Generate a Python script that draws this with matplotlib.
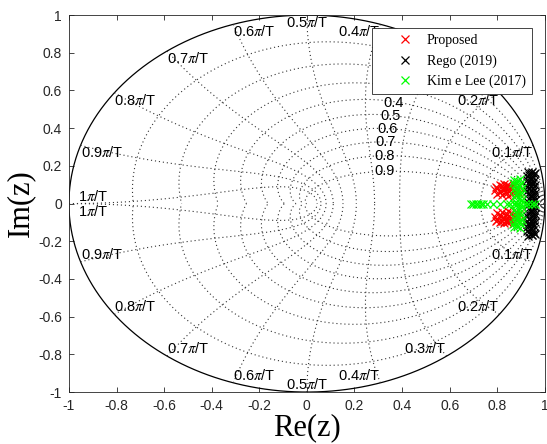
import numpy as np
import matplotlib
matplotlib.use('Agg')
import matplotlib.pyplot as plt

plt.rcParams['mathtext.fontset'] = 'stix'

# poles (upper half plane, conjugates are mirrored)
prop_re = [0.79, 0.80, 0.81, 0.82, 0.83, 0.84, 0.85, 0.86, 0.87, 0.88, 0.89,
           0.80, 0.82, 0.84, 0.86, 0.88, 0.81, 0.83, 0.85, 0.87, 0.89,
           0.795, 0.82, 0.85, 0.88, 0.815, 0.835, 0.845]
prop_im = [0.070, 0.085, 0.060, 0.095, 0.075, 0.100, 0.065, 0.090, 0.105, 0.080, 0.095,
           0.050, 0.045, 0.055, 0.050, 0.060, 0.100, 0.105, 0.095, 0.070, 0.055,
           0.090, 0.075, 0.080, 0.045, 0.065, 0.085, 0.040]

rego_re = [0.93, 0.945, 0.955, 0.935, 0.95, 0.94, 0.925, 0.955, 0.93, 0.945, 0.94, 0.95,
           0.935, 0.955, 0.925, 0.945, 0.93, 0.95, 0.94, 0.955, 0.935, 0.945, 0.93, 0.95,
           0.96, 0.925, 0.96, 0.94, 0.96, 0.925, 0.96, 0.94]
rego_im = [0.170, 0.165, 0.155, 0.150, 0.140, 0.130, 0.125, 0.120, 0.110, 0.105, 0.095, 0.085,
           0.080, 0.070, 0.065, 0.060, 0.050, 0.045, 0.040, 0.030, 0.025, 0.020, 0.010, 0.008,
           0.160, 0.145, 0.100, 0.115, 0.055, 0.090, 0.020, 0.160]

kim_re = [0.87, 0.885, 0.90, 0.875, 0.89, 0.905, 0.87, 0.885, 0.90, 0.88, 0.895,
          0.87, 0.89, 0.905, 0.88, 0.865, 0.895]
kim_im = [0.125, 0.120, 0.110, 0.100, 0.095, 0.085, 0.075, 0.070, 0.060, 0.050, 0.045,
          0.035, 0.025, 0.020, 0.010, 0.110, 0.130]
# real poles of Kim e Lee
kim_real = [0.69, 0.70, 0.71, 0.72, 0.73, 0.74, 0.755, 0.783, 0.811, 0.839, 0.855,
            0.87, 0.885, 0.90, 0.915, 0.93, 0.945, 0.96]

zetas = [0.1, 0.2, 0.3, 0.4, 0.5, 0.6, 0.7, 0.8, 0.9]
wns = [0.1, 0.2, 0.3, 0.4, 0.5, 0.6, 0.7, 0.8, 0.9, 1]
ticks = [-1, -0.8, -0.6, -0.4, -0.2, 0, 0.2, 0.4, 0.6, 0.8, 1]

fig = plt.figure(figsize=(5.47, 4.44), dpi=100)
ax = fig.add_axes([0.126, 0.117, 0.87, 0.849])

grid_kw = dict(color='0.2', lw=0.8, linestyle=(0, (1, 2.6)))

# unit circle
t = np.linspace(0, 2 * np.pi, 400)
ax.plot(np.cos(t), np.sin(t), color='k', lw=0.9)

# constant damping lines
th = np.linspace(0, np.pi, 200)
for z in zetas:
    m = z / np.sqrt(1 - z ** 2)
    zz = np.exp(th * (-m + 1j))
    ax.plot(zz.real, zz.imag, **grid_kw)
    ax.plot(zz.real, -zz.imag, **grid_kw)
    p = np.exp(-z + 1j * np.sqrt(1 - z ** 2))
    ax.text(p.real, p.imag, '%g' % z, ha='right', va='center', fontsize=10.5,
            family='Liberation Sans')

# natural frequency lines
ph = np.linspace(np.pi / 2, np.pi, 100)
for w in wns:
    zz = np.exp(w * np.pi * np.exp(1j * ph))
    ax.plot(zz.real, zz.imag, **grid_kw)
    ax.plot(zz.real, -zz.imag, **grid_kw)
    p = np.exp(1j * w * np.pi)
    lab = r'%g$\pi$/T' % w
    if w < 0.5:
        ha = 'right'
    elif w > 0.5:
        ha = 'left'
    else:
        ha = 'center'
    x0 = p.real + (0.04 if w == 1 else 0)
    va_up, va_dn = ('top', 'bottom') if w < 1 else ('bottom', 'top')
    ax.text(x0, p.imag, lab, ha=ha, va=va_up, fontsize=10.5, family='Liberation Sans')
    ax.text(x0, -p.imag, lab, ha=ha, va=va_dn, fontsize=10.5, family='Liberation Sans')

mk = dict(marker='x', linestyle='none', ms=6.2, mew=0.9)
ax.plot(prop_re + prop_re, prop_im + [-v for v in prop_im], color='r', label='Proposed', **mk)
ax.plot(rego_re + rego_re, rego_im + [-v for v in rego_im], color='k', label='Rego (2019)', **mk)
ax.plot(kim_re + kim_re + kim_real, kim_im + [-v for v in kim_im] + [0] * len(kim_real),
        color=(0, 1, 0), label='Kim e Lee (2017)', **mk)

ax.set_xlim(-1, 1)
ax.set_ylim(-1, 1)
ax.set_xticks(ticks)
ax.set_yticks(ticks)
ax.set_xticklabels(['%g' % v for v in ticks])
ax.set_yticklabels(['%g' % v for v in ticks])
ax.tick_params(direction='in', top=True, right=True, length=3.5, width=0.6,
               labelsize=10, colors='0.15', pad=5)
for lbl in ax.get_xticklabels() + ax.get_yticklabels():
    lbl.set_family('Liberation Sans')
for s in ax.spines.values():
    s.set_color('0.15')
    s.set_linewidth(0.6)

ax.set_xlabel('Re(z)', family='Liberation Serif', fontsize=22, labelpad=0)
ax.set_ylabel('Im(z)', family='Liberation Serif', fontsize=22, labelpad=2)

leg = ax.legend(loc='upper right', bbox_to_anchor=(0.973, 0.966), fancybox=False,
                edgecolor='0.15', framealpha=1, prop={'family': 'Liberation Serif', 'size': 10},
                borderpad=0.45, handlelength=3.9, handletextpad=-0.4, labelspacing=0.5,
                borderaxespad=0)
leg.get_frame().set_linewidth(0.6)

fig.savefig('out.png', dpi=100)
